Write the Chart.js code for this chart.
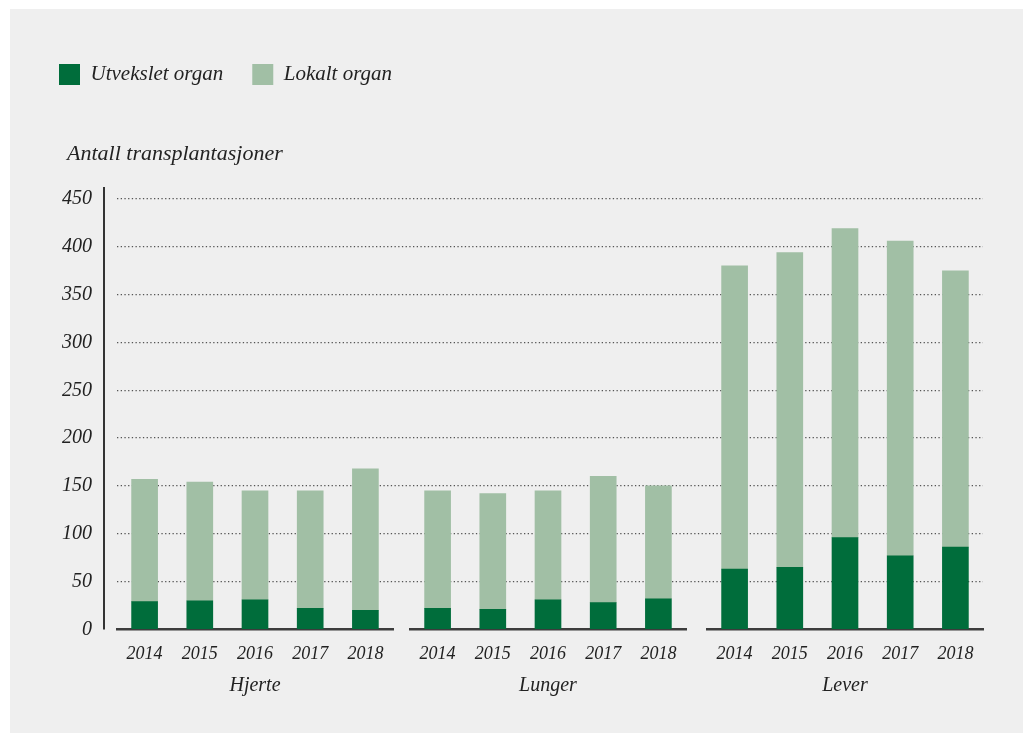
<!DOCTYPE html>
<html lang="no">
<head>
<meta charset="utf-8">
<title>Transplantasjoner</title>
<script src="https://cdn.jsdelivr.net/npm/chart.js@4.4.1/dist/chart.umd.min.js"></script>
<style>
  html, body { margin: 0; padding: 0; background: #ffffff; }
  #panel {
    position: absolute;
    left: 10px;
    top: 9px;
    width: 1013px;
    height: 724px;
    background: #efefef;
  }
</style>
</head>
<body>
<div id="panel"><canvas id="organChart"></canvas></div>
<script>
// ----- Data -----
const years = ["2014", "2015", "2016", "2017", "2018"];
const organs = ["Hjerte", "Lunger", "Lever"];
const seriesNames = ["Utvekslet organ", "Lokalt organ"];
const yCaption = "Antall transplantasjoner";
const yTicks = [0, 50, 100, 150, 200, 250, 300, 350, 400, 450];

const hjerteUtvekslet = [29, 30, 31, 22, 20];
const hjerteLokalt = [128, 124, 114, 123, 148];
const lungerUtvekslet = [22, 21, 31, 28, 32];
const lungerLokalt = [123, 121, 114, 132, 118];
const leverUtvekslet = [63, 65, 96, 77, 86];
const leverLokalt = [317, 329, 323, 329, 289];

// ----- Styles -----
const DARK = "#006d3b";
const LIGHT = "#a1bfa5";
const TEXT = "#222222";
const FONT = "'Liberation Serif', 'DejaVu Serif', serif";

const groupValues = [
  [hjerteUtvekslet, hjerteLokalt],
  [lungerUtvekslet, lungerLokalt],
  [leverUtvekslet, leverLokalt],
];
const axisIds = ["xHjerte", "xLunger", "xLever"];

const datasets = [];
groupValues.forEach((pair, g) => {
  pair.forEach((values, s) => {
    datasets.push({
      label: seriesNames[s],
      data: values,
      xAxisID: axisIds[g],
      backgroundColor: s === 0 ? DARK : LIGHT,
      borderWidth: 0,
      barThickness: 26,
      grouped: false,
    });
  });
});

function organAxis(name, weight) {
  return {
    type: "category",
    labels: years,
    position: "bottom",
    stack: "groups",
    stackWeight: weight,
    stacked: true,
    offset: true,
    z: 1,
    grid: { drawOnChartArea: false, drawTicks: false },
    border: { display: true, color: "#3c3c3c", width: 2.5 },
    ticks: {
      color: TEXT,
      padding: 14,
      autoSkip: false,
      maxRotation: 0,
      font: { family: FONT, style: "italic", size: 18 },
    },
    title: {
      display: true,
      text: name,
      color: TEXT,
      padding: { top: 0, bottom: 0 },
      font: { family: FONT, style: "italic", size: 20, lineHeight: 0.7 },
    },
  };
}

function spacerAxis(weight) {
  return {
    type: "category",
    labels: [""],
    position: "bottom",
    stack: "groups",
    stackWeight: weight,
    grid: { display: false, drawTicks: false },
    border: { display: false },
    ticks: { display: false },
    title: { display: false },
  };
}

// space between legend and plot, holding the y caption
const captionPlugin = {
  id: "captionBox",
  beforeInit(chart) {
    const box = {
      position: "top",
      weight: 500,
      fullSize: true,
      options: {},
      isHorizontal() { return true; },
      update(maxWidth) {
        this.width = maxWidth;
        this.height = 104;
      },
      draw() {
        const { ctx, chartArea } = chart;
        ctx.save();
        ctx.font = "italic 22px " + FONT;
        ctx.fillStyle = TEXT;
        ctx.textBaseline = "middle";
        ctx.textAlign = "left";
        ctx.fillText(yCaption, chartArea.left - 50, this.bottom - 45);
        ctx.restore();
      },
    };
    Chart.layouts.addBox(chart, box);
  },
};

// y-axis line, set a little apart from the plot
const axisLine = {
  id: "axisLine",
  afterDraw(chart) {
    const { ctx, chartArea } = chart;
    ctx.save();
    ctx.strokeStyle = "#333333";
    ctx.lineWidth = 2;
    ctx.beginPath();
    ctx.moveTo(chartArea.left - 13, chartArea.top - 12);
    ctx.lineTo(chartArea.left - 13, chartArea.bottom);
    ctx.stroke();
    ctx.restore();
  },
};

// ----- Chart -----
document.addEventListener("DOMContentLoaded", () => {
  const ctx = document.getElementById("organChart").getContext("2d");
  new Chart(ctx, {
    type: "bar",
    data: { labels: years, datasets: datasets },
    plugins: [captionPlugin, axisLine],
    options: {
      responsive: true,
      maintainAspectRatio: false,
      animation: false,
      layout: { padding: { left: 20, right: 40, top: 26, bottom: 40 } },
      plugins: {
        tooltip: { enabled: false },
        title: { display: false },
        legend: {
          display: true,
          position: "top",
          align: "start",
          labels: {
            boxWidth: 21,
            boxHeight: 21,
            padding: 29,
            color: TEXT,
            font: { family: FONT, style: "italic", size: 21 },
            filter: (item) => item.datasetIndex < 2,
          },
        },
      },
      scales: {
        xHjerte: organAxis(organs[0], 276),
        gap1: spacerAxis(17),
        xLunger: organAxis(organs[1], 276),
        gap2: spacerAxis(21),
        xLever: organAxis(organs[2], 276),
        y: {
          type: "linear",
          position: "left",
          stacked: true,
          min: 0,
          max: 450,
          afterBuildTicks(scale) {
            scale.ticks = yTicks.map((v) => ({ value: v }));
          },
          afterFit(scale) {
            scale.width = 87;
          },
          grid: {
            drawTicks: false,
            lineWidth: 1.3,
            color: (c) => (c.tick && c.tick.value === 0 ? "rgba(0,0,0,0)" : "#555555"),
          },
          border: { display: false, dash: [1.3, 2.4] },
          ticks: {
            color: TEXT,
            padding: 25,
            font: { family: FONT, style: "italic", size: 20 },
          },
        },
      },
    },
  });
});
</script>
</body>
</html>
